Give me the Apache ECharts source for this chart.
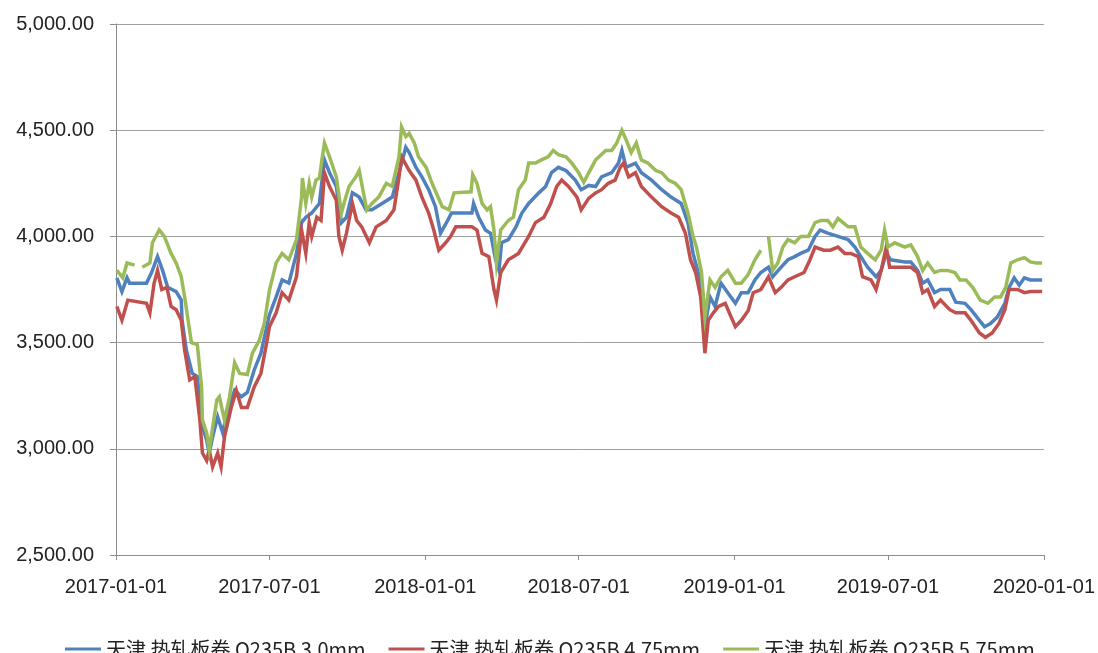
<!DOCTYPE html>
<html>
<head>
<meta charset="utf-8">
<script src="https://cdn.jsdelivr.net/npm/echarts@6/dist/echarts.min.js"></script>
<style>
	html,body{margin:0;padding:0;background:#fff;}
	#chart{width:1098px;height:653px;}
</style>
</head>
<body>
<div id="chart"></div>
<script>
	// 图例名称
	var seriesNames = ['天津 热轧板卷 Q235B 3.0mm', '天津 热轧板卷 Q235B 4.75mm', '天津 热轧板卷 Q235B 5.75mm'];
	// x轴刻度
	var xTickDates = ['2017-01-01', '2017-07-01', '2018-01-01', '2018-07-01', '2019-01-01', '2019-07-01', '2020-01-01'];
	// y轴刻度
	var yTicks = [2500, 3000, 3500, 4000, 4500, 5000];

	// 3.0mm
	var blueData = [
		['2017-01-02',3805],['2017-01-08',3740],['2017-01-14',3805],['2017-01-17',3780],['2017-02-06',3780],
		['2017-02-12',3830],['2017-02-19',3905],['2017-02-25',3840],['2017-03-03',3760],['2017-03-13',3740],
		['2017-03-19',3700],['2017-03-20',3605],['2017-03-25',3465],['2017-04-01',3355],['2017-04-07',3340],
		['2017-04-13',3105],['2017-04-18',3040],['2017-04-21',2980],['2017-04-25',3055],['2017-05-01',3150],
		['2017-05-07',3075],['2017-05-12',3170],['2017-05-21',3275],['2017-05-29',3245],['2017-06-05',3265],
		['2017-06-13',3370],['2017-06-21',3450],['2017-07-01',3630],['2017-07-09',3715],['2017-07-16',3795],
		['2017-07-24',3780],['2017-08-02',3920],['2017-08-08',4065],['2017-08-13',4090],['2017-08-20',4110],
		['2017-08-29',4155],['2017-09-04',4360],['2017-09-10',4300],['2017-09-18',4235],['2017-09-24',4065],
		['2017-09-30',4090],['2017-10-07',4205],['2017-10-15',4185],['2017-10-23',4125],['2017-10-30',4125],
		['2017-11-11',4155],['2017-11-23',4185],['2017-12-01',4300],['2017-12-09',4420],['2017-12-13',4395],
		['2017-12-21',4325],['2017-12-28',4280],['2018-01-05',4220],['2018-01-13',4140],['2018-01-19',4015],
		['2018-01-26',4065],['2018-02-01',4110],['2018-02-25',4110],['2018-02-27',4155],['2018-03-05',4090],
		['2018-03-13',4030],['2018-03-19',4015],['2018-03-25',3890],['2018-03-29',3840],['2018-04-01',3970],
		['2018-04-09',3985],['2018-04-18',4045],['2018-04-25',4110],['2018-05-03',4155],['2018-05-15',4205],
		['2018-05-23',4235],['2018-05-30',4300],['2018-06-07',4325],['2018-06-16',4310],['2018-06-27',4265],
		['2018-07-04',4220],['2018-07-13',4240],['2018-07-21',4235],['2018-07-28',4280],['2018-08-09',4300],
		['2018-08-17',4345],['2018-08-21',4405],['2018-08-26',4325],['2018-09-06',4345],['2018-09-13',4300],
		['2018-09-25',4265],['2018-10-07',4220],['2018-10-18',4185],['2018-10-30',4155],['2018-11-07',4065],
		['2018-11-13',3920],['2018-11-19',3830],['2018-11-25',3715],['2018-11-27',3575],['2018-12-03',3715],
		['2018-12-09',3670],['2018-12-16',3780],['2018-12-24',3735],['2019-01-02',3685],['2019-01-09',3735],
		['2019-01-17',3735],['2019-01-25',3795],['2019-02-01',3830],['2019-02-10',3855],['2019-02-15',3810],
		['2019-02-25',3855],['2019-03-05',3890],['2019-03-13',3905],['2019-03-20',3920],['2019-03-29',3935],
		['2019-04-06',4000],['2019-04-12',4030],['2019-04-21',4015],['2019-05-03',4000],['2019-05-15',3985],
		['2019-05-23',3950],['2019-05-30',3905],['2019-06-07',3855],['2019-06-17',3810],['2019-06-23',3840],
		['2019-06-29',3920],['2019-07-04',3890],['2019-07-21',3880],['2019-07-28',3880],['2019-08-05',3840],
		['2019-08-11',3780],['2019-08-17',3795],['2019-08-25',3735],['2019-09-01',3750],['2019-09-12',3750],
		['2019-09-19',3690],['2019-09-30',3685],['2019-10-07',3655],['2019-10-17',3605],['2019-10-23',3575],
		['2019-10-30',3590],['2019-11-07',3620],['2019-11-16',3685],['2019-11-21',3760],['2019-11-27',3805],
		['2019-12-03',3770],['2019-12-09',3805],['2019-12-16',3795],['2019-12-30',3795]
	];
	// 4.75mm
	var redData = [
		['2017-01-02',3670],['2017-01-08',3605],['2017-01-15',3700],['2017-02-06',3685],['2017-02-10',3640],
		['2017-02-15',3780],['2017-02-19',3840],['2017-02-24',3750],['2017-03-02',3760],['2017-03-07',3670],
		['2017-03-13',3655],['2017-03-19',3605],['2017-03-23',3465],['2017-03-29',3325],['2017-04-04',3340],
		['2017-04-10',3135],['2017-04-13',2980],['2017-04-18',2945],['2017-04-21',2995],['2017-04-25',2915],
		['2017-05-01',2980],['2017-05-05',2915],['2017-05-09',3055],['2017-05-17',3195],['2017-05-23',3275],
		['2017-05-29',3195],['2017-06-05',3195],['2017-06-13',3290],['2017-06-21',3355],['2017-06-29',3525],
		['2017-07-01',3575],['2017-07-09',3640],['2017-07-16',3735],['2017-07-24',3700],['2017-08-02',3810],
		['2017-08-08',4030],['2017-08-13',3920],['2017-08-17',4065],['2017-08-20',4000],['2017-08-26',4090],
		['2017-08-31',4075],['2017-09-04',4300],['2017-09-10',4235],['2017-09-18',4170],['2017-09-21',4000],
		['2017-09-25',3935],['2017-09-30',4015],['2017-10-07',4155],['2017-10-12',4075],['2017-10-18',4045],
		['2017-10-27',3970],['2017-11-04',4045],['2017-11-16',4075],['2017-11-25',4125],['2017-12-01',4280],
		['2017-12-04',4375],['2017-12-13',4310],['2017-12-21',4265],['2017-12-28',4185],['2018-01-05',4110],
		['2018-01-11',4030],['2018-01-17',3935],['2018-01-25',3970],['2018-01-31',4000],['2018-02-06',4045],
		['2018-02-25',4045],['2018-03-03',4030],['2018-03-09',3920],['2018-03-17',3905],['2018-03-23',3750],
		['2018-03-26',3700],['2018-03-31',3830],['2018-04-09',3890],['2018-04-21',3920],['2018-05-03',4000],
		['2018-05-11',4065],['2018-05-21',4090],['2018-05-29',4155],['2018-06-05',4235],['2018-06-11',4265],
		['2018-06-19',4235],['2018-06-29',4185],['2018-07-04',4125],['2018-07-13',4180],['2018-07-21',4205],
		['2018-07-28',4220],['2018-08-05',4250],['2018-08-13',4265],['2018-08-19',4325],['2018-08-23',4345],
		['2018-08-29',4280],['2018-09-06',4300],['2018-09-13',4235],['2018-09-25',4185],['2018-10-07',4140],
		['2018-10-18',4110],['2018-10-27',4090],['2018-11-04',4015],['2018-11-10',3890],['2018-11-16',3830],
		['2018-11-22',3715],['2018-11-27',3450],['2018-12-01',3605],['2018-12-07',3640],['2018-12-13',3670],
		['2018-12-21',3685],['2018-12-28',3620],['2019-01-02',3575],['2019-01-09',3605],['2019-01-17',3650],
		['2019-01-23',3735],['2019-02-01',3750],['2019-02-10',3810],['2019-02-18',3735],['2019-02-25',3760],
		['2019-03-05',3795],['2019-03-13',3810],['2019-03-24',3830],['2019-03-31',3890],['2019-04-06',3950],
		['2019-04-16',3935],['2019-04-24',3935],['2019-05-03',3950],['2019-05-11',3920],['2019-05-18',3920],
		['2019-05-27',3905],['2019-06-01',3810],['2019-06-11',3795],['2019-06-17',3750],['2019-06-23',3840],
		['2019-06-29',3950],['2019-07-03',3855],['2019-07-13',3855],['2019-07-28',3855],['2019-08-05',3830],
		['2019-08-11',3735],['2019-08-17',3750],['2019-08-25',3670],['2019-09-01',3700],['2019-09-12',3655],
		['2019-09-19',3640],['2019-09-30',3640],['2019-10-07',3605],['2019-10-17',3545],['2019-10-24',3525],
		['2019-11-01',3545],['2019-11-09',3590],['2019-11-16',3655],['2019-11-21',3750],['2019-12-01',3750],
		['2019-12-09',3735],['2019-12-16',3740],['2019-12-30',3740]
	];
	// 5.75mm (null = 春节无数据)
	var greenData = [
		['2017-01-02',3840],['2017-01-09',3805],['2017-01-14',3875],['2017-01-23',3865],['2017-01-27',null],
		['2017-02-01',3855],['2017-02-10',3875],['2017-02-13',3970],['2017-02-21',4030],['2017-02-27',4000],
		['2017-03-07',3920],['2017-03-13',3875],['2017-03-19',3810],['2017-03-23',3715],['2017-03-31',3500],
		['2017-04-07',3490],['2017-04-12',3290],['2017-04-13',3135],['2017-04-18',3075],['2017-04-21',2995],
		['2017-04-30',3230],['2017-05-03',3245],['2017-05-09',3135],['2017-05-15',3245],['2017-05-21',3405],
		['2017-05-27',3355],['2017-06-05',3350],['2017-06-11',3450],['2017-06-19',3510],['2017-06-25',3590],
		['2017-07-01',3745],['2017-07-09',3875],['2017-07-16',3920],['2017-07-24',3890],['2017-08-02',3985],
		['2017-08-08',4185],['2017-08-09',4275],['2017-08-13',4155],['2017-08-17',4250],['2017-08-20',4185],
		['2017-08-25',4265],['2017-08-29',4275],['2017-09-01',4360],['2017-09-04',4440],['2017-09-10',4375],
		['2017-09-18',4280],['2017-09-24',4110],['2017-09-27',4155],['2017-10-03',4235],['2017-10-11',4280],
		['2017-10-15',4310],['2017-10-21',4185],['2017-10-24',4125],['2017-10-30',4155],['2017-11-07',4185],
		['2017-11-16',4250],['2017-11-23',4235],['2017-12-01',4375],['2017-12-04',4515],['2017-12-09',4470],
		['2017-12-13',4485],['2017-12-19',4440],['2017-12-24',4375],['2018-01-02',4325],['2018-01-09',4250],
		['2018-01-15',4195],['2018-01-21',4140],['2018-01-29',4125],['2018-02-04',4205],['2018-02-24',4210],
		['2018-02-26',4290],['2018-03-03',4250],['2018-03-09',4155],['2018-03-15',4125],['2018-03-19',4140],
		['2018-03-23',4030],['2018-03-26',3875],['2018-03-31',4030],['2018-04-09',4075],['2018-04-15',4090],
		['2018-04-21',4220],['2018-04-29',4265],['2018-05-03',4345],['2018-05-11',4345],['2018-05-18',4360],
		['2018-05-26',4375],['2018-06-01',4405],['2018-06-07',4385],['2018-06-16',4375],['2018-06-23',4345],
		['2018-07-01',4300],['2018-07-07',4255],['2018-07-13',4300],['2018-07-21',4360],['2018-08-02',4405],
		['2018-08-09',4405],['2018-08-15',4440],['2018-08-21',4500],['2018-08-26',4455],['2018-09-01',4395],
		['2018-09-07',4440],['2018-09-13',4360],['2018-09-21',4345],['2018-09-30',4310],['2018-10-07',4300],
		['2018-10-15',4265],['2018-10-23',4250],['2018-10-30',4220],['2018-11-07',4110],['2018-11-13',4000],
		['2018-11-17',3950],['2018-11-23',3830],['2018-11-27',3620],['2018-12-03',3795],['2018-12-09',3760],
		['2018-12-16',3810],['2018-12-24',3840],['2019-01-02',3780],['2019-01-09',3780],['2019-01-17',3820],
		['2019-01-25',3890],['2019-02-01',3935],['2019-02-05',null],['2019-02-10',4000],['2019-02-15',3840],
		['2019-02-21',3875],['2019-02-27',3950],['2019-03-05',3985],['2019-03-13',3970],['2019-03-20',4000],
		['2019-03-29',4000],['2019-04-06',4065],['2019-04-13',4075],['2019-04-21',4075],['2019-04-27',4045],
		['2019-05-03',4085],['2019-05-09',4065],['2019-05-15',4045],['2019-05-23',4045],['2019-05-30',3950],
		['2019-06-07',3920],['2019-06-16',3890],['2019-06-23',3935],['2019-06-27',4030],['2019-07-01',3950],
		['2019-07-09',3970],['2019-07-21',3950],['2019-07-28',3960],['2019-08-05',3905],['2019-08-11',3840],
		['2019-08-17',3875],['2019-08-25',3830],['2019-09-01',3840],['2019-09-09',3840],['2019-09-18',3830],
		['2019-09-24',3795],['2019-10-01',3795],['2019-10-09',3760],['2019-10-18',3700],['2019-10-27',3685],
		['2019-11-04',3715],['2019-11-11',3715],['2019-11-17',3760],['2019-11-23',3875],['2019-12-01',3890],
		['2019-12-09',3900],['2019-12-16',3880],['2019-12-23',3875],['2019-12-30',3875]
	];

	var colors = ['#4F81BD', '#C0504D', '#9BBB59'];

	function fmtMoney(v){
		var s = Math.round(v).toString().replace(/\B(?=(\d{3})+(?!\d))/g, ',');
		return s + '.00';
	}
	//日期字符串转时间戳
	function dayTime(s){
		var p = s.split('-');
		return Date.UTC(+p[0], +p[1]-1, +p[2]);
	}
	function fmtDate(t){
		var d = new Date(t);
		var m = d.getUTCMonth() + 1, day = d.getUTCDate();
		return d.getUTCFullYear() + '-' + (m < 10 ? '0' + m : m) + '-' + (day < 10 ? '0' + day : day);
	}
	function toSeriesData(arr){
		return arr.map(function(d){ return [dayTime(d[0]), d[1] == null ? '-' : d[1]]; });
	}
	var tickTimes = xTickDates.map(dayTime);

	var allData = [blueData, redData, greenData];
	var series = seriesNames.map(function(name, i){
		return {
			name: name,
			type: 'line',
			data: toSeriesData(allData[i]),
			symbol: 'none',
			connectNulls: false,
			lineStyle: { width: 3.5, color: colors[i], join: 'miter' },
			itemStyle: { color: colors[i] },
			z: 2 + i
		};
	});

	var option = {
		backgroundColor: '#fff',
		animation: false,
		color: colors,
		grid: { left: 116, right: 52, top: 24, bottom: 98 },
		legend: {
			left: 60,
			top: 634,
			icon: 'rect',
			itemGap: 23,
			itemWidth: 36,
			itemHeight: 3,
			textStyle: { fontFamily: 'Noto Sans CJK SC', fontSize: 20, color: '#222' },
			data: seriesNames
		},
		xAxis: {
			type: 'value',
			min: tickTimes[0],
			max: tickTimes[tickTimes.length - 1],
			axisLine: { show: true, onZero: false, lineStyle: { color: '#8c8c8c', width: 1 } },
			axisTick: { show: true, length: 5, customValues: tickTimes, lineStyle: { color: '#8c8c8c' } },
			axisLabel: {
				customValues: tickTimes,
				margin: 22,
				fontFamily: 'Liberation Sans',
				fontSize: 20,
				color: '#222',
				showMinLabel: true,
				showMaxLabel: true,
				formatter: fmtDate
			},
			splitLine: { show: false }
		},
		yAxis: {
			type: 'value',
			min: yTicks[0],
			max: yTicks[yTicks.length - 1],
			interval: 500,
			axisLine: { show: true, lineStyle: { color: '#8c8c8c', width: 1 } },
			axisTick: { show: true, length: 6, lineStyle: { color: '#8c8c8c' } },
			axisLabel: {
				margin: 22,
				fontFamily: 'Liberation Sans',
				fontSize: 20,
				color: '#222',
				formatter: fmtMoney
			},
			splitLine: { show: true, lineStyle: { color: '#a0a0a0', width: 1 } }
		},
		series: series
	};

	var myChart = echarts.init(document.getElementById('chart'));
	myChart.setOption(option);
</script>
</body>
</html>
